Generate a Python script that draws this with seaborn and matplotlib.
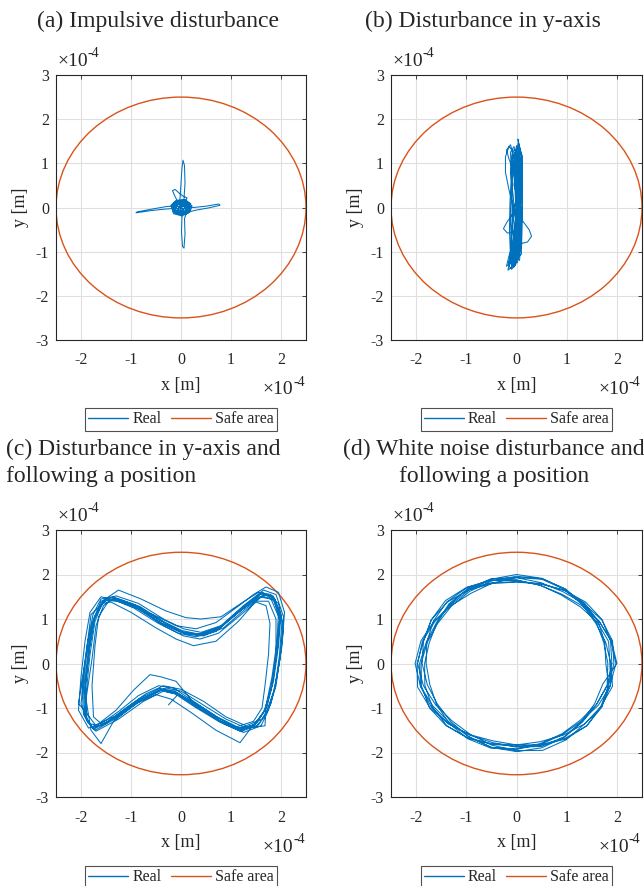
import matplotlib
matplotlib.use("Agg")
import numpy as np
import matplotlib.pyplot as plt
import seaborn as sns
from matplotlib.patches import Circle
from matplotlib.lines import Line2D

# — Dados (unidades de 1e-4 m) —
SAFE_RADIUS = 2.5
BLUE = "#0072BD"
ORANGE = "#D95319"

titles = ["(a) Impulsive disturbance",
          "(b) Disturbance in y-axis",
          "(c) Disturbance in y-axis and\nfollowing a position",
          "(d) White noise disturbance and\nfollowing a position"]
legend_labels = ["Real", "Safe area"]
xticks = [-2, -1, 0, 1, 2]
yticks = [-3, -2, -1, 0, 1, 2, 3]

# (a) perturbação impulsiva: cruz com mancha no centro
traj_a = [(0, 0), (0.08, 0.05), (0.12, -0.03), (0.05, -0.1), (-0.06, -0.08), (-0.1, 0.02),
          (-0.04, 0.09), (0.06, 0.1), (0.14, 0.03), (0.1, -0.09), (0, -0.13), (-0.12, -0.06),
          (-0.02, 0.2), (0.0, 0.55), (0.02, 0.9), (0.04, 1.07), (0.07, 0.95), (0.08, 0.55),
          (0.06, 0.2), (0.1, 0.05), (0.16, -0.04), (0.08, -0.12),
          (0.3, -0.06), (0.55, -0.01), (0.78, 0.05), (0.76, 0.08), (0.5, 0.03), (0.25, 0.0),
          (0.1, 0.02), (-0.05, 0.1), (-0.12, 0.25), (-0.17, 0.38), (-0.12, 0.41), (-0.03, 0.32),
          (0.05, 0.25), (0.12, 0.22), (0.08, 0.12), (-0.08, 0.06), (-0.14, -0.02),
          (-0.35, -0.04), (-0.6, -0.07), (-0.9, -0.12), (-0.88, -0.1), (-0.6, -0.04), (-0.3, 0.02),
          (-0.1, 0.04), (0.05, -0.05), (0.1, 0.08), (-0.04, 0.12), (0.02, -0.2), (0.01, -0.55),
          (0.03, -0.88), (0.06, -0.92), (0.08, -0.6), (0.07, -0.25), (0.12, -0.08), (0.07, 0.09),
          (-0.09, 0.07), (-0.11, -0.07), (0.02, -0.06), (0.15, 0.06), (0.05, 0.15), (-0.15, 0.1),
          (-0.17, -0.05), (-0.05, -0.16), (0.12, -0.12), (0.18, 0.0), (0.1, 0.12), (-0.08, 0.14),
          (-0.16, 0.0), (-0.08, -0.12), (0.08, -0.1), (0.12, 0.04), (0.0, 0.08), (-0.06, -0.02),
          (0.16, 0.1), (0.05, 0.17), (-0.12, 0.13), (-0.18, 0.02), (-0.13, -0.12), (0.0, -0.17),
          (0.14, -0.13), (0.2, 0.0), (0.12, 0.14), (-0.02, 0.16), (-0.15, 0.07), (-0.16, -0.08),
          (-0.04, -0.14), (0.1, -0.15), (0.17, -0.05), (0.15, 0.09), (0.0, 0.13), (-0.1, 0.1),
          (-0.14, -0.03), (-0.06, -0.11), (0.07, -0.13), (0.13, -0.02), (0.08, 0.07), (-0.03, 0.06),
          (-0.06, -0.05), (0.04, -0.08), (0.09, 0.03), (0.0, 0.04), (0.2, 0.08), (0.08, 0.18),
          (-0.1, 0.16), (-0.2, 0.05), (-0.15, -0.14), (0.02, -0.19), (0.18, -0.1), (0.22, 0.04),
          (0.1, 0.1), (-0.05, 0.0), (0.05, -0.02)]

# (b) perturbação no eixo y: faixa vertical
traj_b = [(0.0, 0.0), (0.03, 0.5), (0.05, 1.0), (0.02, 1.3), (-0.03, 1.15), (-0.02, 0.6), (0.02, 0.0),
          (0.04, -0.6), (0.0, -1.05), (-0.1, -1.3), (-0.08, -1.1), (-0.03, -0.6), (0.04, 0.0),
          (0.08, 0.6), (0.1, 1.1), (0.05, 1.4), (0.03, 1.55), (0.06, 1.2), (0.04, 0.6), (0.0, 0.0),
          (-0.04, -0.5), (-0.1, -1.0), (-0.17, -1.42), (-0.1, -1.35), (-0.03, -0.9), (0.05, -0.3),
          (0.08, 0.3), (0.04, 0.9), (-0.05, 1.25), (-0.15, 1.38), (-0.22, 1.15), (-0.22, 0.8),
          (-0.15, 0.4), (-0.06, 0.0), (0.0, -0.4), (0.05, -0.9), (0.02, -1.25), (-0.06, -1.2),
          (-0.06, -0.7), (0.0, -0.2), (0.05, 0.4), (0.07, 1.0), (0.02, 1.35), (-0.04, 1.2),
          (-0.02, 0.7), (0.0, 0.2), (-0.08, -0.15), (-0.2, -0.35), (-0.26, -0.48), (-0.18, -0.58),
          (-0.05, -0.55), (0.03, -0.8), (-0.02, -1.2), (-0.12, -1.38), (-0.16, -1.28), (-0.08, -0.9),
          (0.05, -0.3), (0.1, 0.3), (0.12, 0.9), (0.08, 1.3), (0.04, 1.48), (-0.01, 1.25),
          (-0.04, 0.7), (0.0, 0.1), (0.12, -0.3), (0.25, -0.5), (0.3, -0.65), (0.22, -0.78),
          (0.08, -0.82), (-0.05, -1.1), (-0.1, -1.4), (-0.02, -1.3), (0.06, -0.9), (0.08, -0.3),
          (0.05, 0.3), (-0.05, 0.8), (-0.15, 1.1), (-0.2, 1.3), (-0.12, 1.42), (-0.04, 1.1),
          (0.02, 0.5), (0.02, -0.2), (-0.05, -0.7), (-0.15, -1.1), (-0.2, -1.33), (-0.12, -1.25),
          (-0.04, -0.85), (0.06, -0.2), (0.08, 0.5), (0.05, 1.05), (0.01, 1.28), (0.08, 1.1),
          (0.1, 0.5), (0.06, -0.2), (0.02, -0.75), (-0.08, -1.15), (-0.14, -1.3), (-0.06, -1.05),
          (0.0, -0.5), (0.06, 0.2), (0.02, 0.9), (-0.08, 1.2), (-0.06, 0.8), (0.0, 0.2),
          (0.07, -0.4), (0.04, -1.0), (-0.04, -1.2), (-0.02, -0.6), (0.03, 0.0), (0.1, 0.6),
          (0.12, 1.15), (0.06, 1.35), (0.02, 0.9), (0.0, 0.3), (0.02, -0.3), (0.08, -0.7),
          (0.1, -1.05), (0.02, -1.15), (-0.05, -0.6), (0.0, 0.0), (0.04, 0.7), (-0.02, 1.1),
          (-0.08, 1.2), (-0.1, 0.6), (-0.08, 0.0), (-0.1, -0.6), (-0.12, -1.2), (-0.05, -1.35),
          (0.0, -0.8), (0.1, -0.2), (0.12, 0.5), (0.1, 1.2), (0.0, 1.4), (-0.06, 1.0),
          (-0.1, 0.3), (-0.12, -0.3), (-0.1, -0.9), (-0.15, -1.25), (-0.02, -1.3), (0.08, -0.7),
          (0.12, 0.0), (0.08, 0.8), (0.05, 1.3), (-0.08, 1.3), (-0.12, 0.8), (-0.06, 0.2),
          (-0.08, -0.4), (-0.02, -1.1), (0.06, -1.2), (0.1, -0.6), (0.06, 0.1), (0.1, 0.7),
          (0.0, 1.2), (-0.05, 0.5), (0.12, -0.1), (0.1, -0.9), (-0.04, -1.3), (-0.12, -1.1),
          (-0.14, -0.5), (-0.13, 0.1), (-0.1, 0.8), (-0.12, 1.25), (-0.05, 1.38), (0.04, 0.9),
          (0.07, 0.2), (0.09, -0.5), (0.04, -1.1), (-0.08, -1.32), (-0.1, -0.8), (-0.05, -0.1),
          (0.03, 0.6), (0.11, 1.0), (0.04, 1.2), (-0.03, 0.4), (0.0, -0.3), (0.03, 0.4)]

# (c) perturbação em y seguindo uma posição: laços em forma de "osso"
traj_c = [(-1.35, 1.48), (-0.9, 1.3), (-0.4, 0.95), (0.0, 0.72), (0.35, 0.63), (0.75, 0.78),
          (1.2, 1.2), (1.6, 1.58), (1.85, 1.5), (2.0, 1.1), (1.95, 0.4), (1.85, -0.4),
          (1.7, -1.0), (1.5, -1.35), (1.2, -1.5), (0.8, -1.3), (0.3, -0.95), (-0.1, -0.65),
          (-0.4, -0.58), (-0.8, -0.8), (-1.3, -1.2), (-1.75, -1.48), (-1.92, -1.2), (-1.95, -0.6),
          (-1.85, 0.3), (-1.75, 1.0), (-1.6, 1.4),
          (-1.3, 1.52), (-0.85, 1.35), (-0.35, 1.0), (0.05, 0.78), (0.4, 0.7), (0.8, 0.85),
          (1.25, 1.3), (1.65, 1.65), (1.9, 1.55), (2.05, 1.05), (2.0, 0.3), (1.9, -0.5),
          (1.75, -1.05), (1.6, -1.4), (1.25, -1.55), (0.85, -1.35), (0.35, -1.0), (-0.05, -0.7),
          (-0.35, -0.62), (-0.75, -0.85), (-1.25, -1.25), (-1.7, -1.52), (-1.88, -1.3), (-1.9, -0.7),
          (-1.82, 0.2), (-1.72, 0.95), (-1.55, 1.42),
          (-1.25, 1.65), (-0.8, 1.45), (-0.3, 1.18), (0.1, 1.03), (0.4, 1.0), (0.8, 1.05),
          (1.2, 1.35), (1.55, 1.6), (1.8, 1.55), (1.95, 1.15), (1.92, 0.5), (1.82, -0.3),
          (1.7, -0.95), (1.68, -1.4), (1.3, -1.45), (0.9, -1.25), (0.4, -0.9), (0.0, -0.62),
          (-0.3, -0.55), (-0.7, -0.75), (-1.2, -1.1), (-1.6, -1.4), (-1.85, -1.35), (-2.0, -0.9),
          (-1.9, 0.1), (-1.78, 0.9), (-1.58, 1.35),
          (-1.4, 1.38), (-1.0, 1.15), (-0.5, 0.8), (-0.1, 0.55), (0.25, 0.4), (0.7, 0.5),
          (1.15, 0.95), (1.5, 1.4), (1.75, 1.4), (1.9, 1.0), (1.9, 0.2), (1.8, -0.6),
          (1.65, -1.1), (1.4, -1.45), (1.18, -1.78), (0.7, -1.5), (0.2, -1.1), (-0.2, -0.8),
          (-0.5, -0.7), (-0.9, -0.9), (-1.35, -1.3), (-1.6, -1.8), (-1.8, -1.5), (-1.9, -0.8),
          (-1.78, 0.1), (-1.7, 0.85), (-1.55, 1.3),
          (-1.38, 1.45), (-0.95, 1.25), (-0.45, 0.9), (-0.05, 0.68), (0.3, 0.6), (0.7, 0.72),
          (1.15, 1.15), (1.55, 1.5), (1.8, 1.45), (1.97, 1.0), (1.93, 0.35), (1.82, -0.45),
          (1.68, -1.05), (1.45, -1.4), (1.1, -1.45), (0.7, -1.2), (0.25, -0.88), (-0.1, -0.4),
          (-0.4, -0.3), (-0.62, -0.25), (-0.95, -0.6), (-1.3, -1.05), (-1.7, -1.4), (-1.9, -1.1),
          (-2.05, -0.9), (-1.9, 0.2), (-1.8, 1.1),
          (-1.5, 1.42), (-1.1, 1.38), (-0.6, 1.12), (-0.1, 0.85), (0.3, 0.78), (0.7, 0.92),
          (1.1, 1.25), (1.45, 1.55), (1.7, 1.72), (1.95, 1.6), (2.07, 1.15), (2.02, 0.4),
          (1.92, -0.3), (1.8, -0.9), (1.62, -1.25), (1.3, -1.4), (0.9, -1.2), (0.45, -0.85),
          (0.0, -0.58), (-0.35, -0.5), (-0.7, -0.68), (-1.1, -1.0), (-1.5, -1.35), (-1.85, -1.45),
          (-2.05, -1.05), (-2.0, -0.3), (-1.92, 0.5), (-1.82, 1.15), (-1.6, 1.5),
          (-1.32, 1.42), (-0.9, 1.25), (-0.42, 0.92), (0.0, 0.7), (0.38, 0.66), (0.78, 0.82),
          (1.22, 1.25), (1.62, 1.6), (1.88, 1.45), (2.02, 0.95), (1.97, 0.2), (1.88, -0.55),
          (1.72, -1.08), (1.55, -1.38), (1.22, -1.52), (0.82, -1.32), (0.32, -0.98), (-0.08, -0.68),
          (-0.38, -0.6), (-0.78, -0.82), (-1.28, -1.22), (-1.72, -1.5), (-1.9, -1.25), (-1.92, -0.55),
          (-1.83, 0.35), (-1.73, 1.05), (-1.5, 1.45),
          (-1.2, 1.4), (-0.8, 1.2), (-0.35, 0.85), (0.05, 0.62), (0.38, 0.55), (0.75, 0.68),
          (1.15, 1.05), (1.5, 1.38), (1.7, 1.3), (1.78, 0.9), (1.75, 0.2), (1.68, -0.5),
          (1.62, -1.0), (1.45, -1.3), (1.12, -1.42), (0.72, -1.2), (0.25, -0.85), (-0.15, -0.55),
          (-0.45, -0.5), (-0.85, -0.72), (-1.25, -1.08), (-1.6, -1.35), (-1.75, -1.2), (-1.78, -0.5),
          (-1.72, 0.4), (-1.65, 1.05), (-1.45, 1.4),
          (-1.28, 1.46), (-0.82, 1.28), (-0.3, 0.9), (0.1, 0.66), (0.45, 0.62), (0.85, 0.8),
          (1.28, 1.22), (1.68, 1.55), (1.95, 1.35), (2.05, 0.8), (1.98, 0.1), (1.86, -0.6),
          (1.7, -1.15), (1.5, -1.42), (1.15, -1.48), (0.75, -1.28), (0.28, -0.92), (-0.12, -0.62),
          (-0.42, -0.56), (-0.82, -0.78), (-1.32, -1.18), (-1.78, -1.42), (-1.95, -1.15), (-1.98, -0.5),
          (-1.88, 0.4), (-1.76, 1.1), (-1.6, 1.45),
          (-1.36, 1.5), (-0.92, 1.32), (-0.42, 0.98), (0.02, 0.74), (0.36, 0.66), (0.76, 0.8),
          (1.18, 1.18), (1.58, 1.55), (1.84, 1.52), (1.98, 1.12), (1.94, 0.42), (1.84, -0.38),
          (1.72, -0.98), (1.52, -1.33), (1.18, -1.52), (0.78, -1.32), (0.28, -0.98), (-0.12, -0.68),
          (-0.42, -0.6), (-0.82, -0.82), (-1.32, -1.22), (-1.76, -1.46), (-1.9, -1.2), (-1.92, -0.62),
          (-1.84, 0.28), (-1.74, 0.98), (-1.58, 1.38),
          (-1.34, 1.46), (-0.88, 1.26), (-0.38, 0.9), (0.0, 0.7), (0.34, 0.64), (0.74, 0.76),
          (1.2, 1.2), (1.62, 1.52), (1.86, 1.42), (1.98, 0.98), (1.92, 0.3), (1.82, -0.5),
          (1.68, -1.05), (1.48, -1.38), (1.15, -1.46), (0.75, -1.22), (0.3, -0.9), (-0.05, -0.68),
          (-0.25, -0.93)]

# (d) ruído branco seguindo uma posição: anel, lido em coordenadas polares (ângulo, raio)
ring_angles = [0, 15, 30, 45, 60, 75, 90, 105, 120, 135, 150, 165,
               180, 195, 210, 225, 240, 255, 270, 285, 300, 315, 330, 345]
ring_radii = [
    [1.90, 1.94, 1.97, 1.95, 1.90, 1.85, 1.83, 1.86, 1.91, 1.95, 1.96, 1.92,
     1.88, 1.84, 1.82, 1.85, 1.90, 1.95, 1.98, 1.96, 1.91, 1.86, 1.84, 1.87],
    [1.82, 1.80, 1.84, 1.89, 1.94, 1.97, 1.96, 1.92, 1.87, 1.83, 1.81, 1.84,
     1.90, 1.96, 2.00, 1.98, 1.93, 1.87, 1.83, 1.82, 1.86, 1.92, 1.96, 1.93],
    [1.98, 1.95, 1.90, 1.84, 1.80, 1.82, 1.87, 1.93, 1.97, 1.96, 1.91, 1.85,
     1.80, 1.79, 1.84, 1.90, 1.95, 1.97, 1.93, 1.88, 1.84, 1.83, 1.88, 1.94],
    [1.86, 1.90, 1.86, 1.80, 1.78, 1.82, 1.88, 1.94, 1.98, 2.00, 1.96, 1.92,
     1.98, 2.04, 1.99, 1.92, 1.85, 1.80, 1.83, 1.89, 1.94, 1.98, 1.96, 1.90],
    [1.94, 1.98, 1.96, 1.90, 1.86, 1.88, 1.93, 1.97, 1.94, 1.88, 1.83, 1.80,
     1.83, 1.89, 1.94, 1.97, 1.94, 1.88, 1.86, 1.90, 1.96, 1.98, 1.94, 1.90],
    [1.78, 1.82, 1.88, 1.92, 1.90, 1.86, 1.84, 1.88, 1.94, 1.90, 1.84, 1.86,
     1.93, 1.98, 1.96, 1.91, 1.86, 1.84, 1.88, 1.93, 1.90, 1.84, 1.80, 1.78],
    [2.00, 1.96, 1.90, 1.88, 1.93, 1.98, 2.00, 1.96, 1.90, 1.86, 1.88, 1.94,
     1.97, 1.92, 1.86, 1.82, 1.84, 1.90, 1.96, 2.02, 1.98, 1.92, 1.94, 1.98],
    [1.88, 1.84, 1.82, 1.86, 1.92, 1.96, 1.93, 1.87, 1.82, 1.84, 1.90, 1.97,
     2.02, 1.98, 1.92, 1.88, 1.90, 1.95, 1.92, 1.86, 1.82, 1.80, 1.84, 1.88],
]

ang = ring_angles * len(ring_radii) + [ring_angles[0]]
rad = np.array(sum(ring_radii, []) + [ring_radii[0][0]])
th = np.deg2rad(ang)
traj_d = list(zip(rad * np.cos(th), rad * np.sin(th)))

trajs = [traj_a, traj_b, traj_c, traj_d]

# — Estilo —
sns.set_style("whitegrid")
plt.rcParams["font.family"] = ["Liberation Serif", "DejaVu Serif"]
plt.rcParams["axes.unicode_minus"] = False

fig = plt.figure(figsize=(6.44, 8.86), dpi=100)
W, H = 644, 886
# caixas dos eixos em pixels (esquerda, topo, direita, baixo)
boxes = [(56, 75, 306, 340), (391, 75, 642, 340), (56, 530, 306, 797), (391, 530, 642, 797)]

for k, (l, t, r, b) in enumerate(boxes):
    ax = fig.add_axes([l / W, 1 - b / H, (r - l) / W, (b - t) / H])
    xs = [p[0] for p in trajs[k]]
    ys = [p[1] for p in trajs[k]]
    sns.lineplot(x=xs, y=ys, sort=False, estimator=None, color=BLUE, linewidth=0.75, ax=ax)
    ax.add_patch(Circle((0, 0), SAFE_RADIUS, fill=False, edgecolor=ORANGE, linewidth=1.0))
    ax.set_xlim(-2.5, 2.5)
    ax.set_ylim(-3, 3)
    ax.set_xticks(xticks)
    ax.set_yticks(yticks)
    ax.grid(True, color="#dfdfdf", linewidth=0.8)
    for s in ax.spines.values():
        s.set_color("#262626")
        s.set_linewidth(0.8)
    ax.tick_params(direction="in", length=3, width=0.6, top=True, right=True,
                   labelsize=11.5, colors="#262626", pad=9)
    ax.tick_params(axis="y", pad=5)
    ax.set_xlabel("x [m]", fontsize=13, labelpad=6)
    ax.set_ylabel("y [m]", fontsize=13, labelpad=5)
    # etiquetas de expoente ao estilo MATLAB
    t1 = ax.text(0.005, 1.02, "×10", transform=ax.transAxes, fontsize=14,
                 ha="left", va="bottom", color="#262626")
    ax.annotate("-4", xy=(1, 0.55), xycoords=t1, fontsize=10, va="bottom", color="#262626")
    t2 = ax.text(0.948, -0.22, "×10", transform=ax.transAxes, fontsize=14,
                 ha="right", va="bottom", color="#262626")
    ax.annotate("-4", xy=(1, 0.55), xycoords=t2, fontsize=10, va="bottom", color="#262626")
    handles = [Line2D([], [], color=BLUE, linewidth=1.0), Line2D([], [], color=ORANGE, linewidth=1.0)]
    leg = ax.legend(handles, legend_labels, loc="center", bbox_to_anchor=(0.5, -0.3), ncol=2,
                    fontsize=11.5, frameon=True, fancybox=False, handlelength=2.5,
                    handletextpad=0.25, columnspacing=0.6, borderpad=0.2)
    leg.get_frame().set_edgecolor("#262626")
    leg.get_frame().set_linewidth(0.8)

# títulos
fig.text(158 / W, 1 - 27 / H, titles[0], fontsize=17, ha="center", va="baseline")
fig.text(483 / W, 1 - 27 / H, titles[1], fontsize=17, ha="center", va="baseline")
fig.text(6 / W, 1 - 463 / H, titles[2], fontsize=17, ha="left", va="center", linespacing=1.4)
fig.text(494 / W, 1 - 463 / H, titles[3], fontsize=17, ha="center", va="center",
         multialignment="center", linespacing=1.4)

fig.savefig("out.png", dpi=100)
